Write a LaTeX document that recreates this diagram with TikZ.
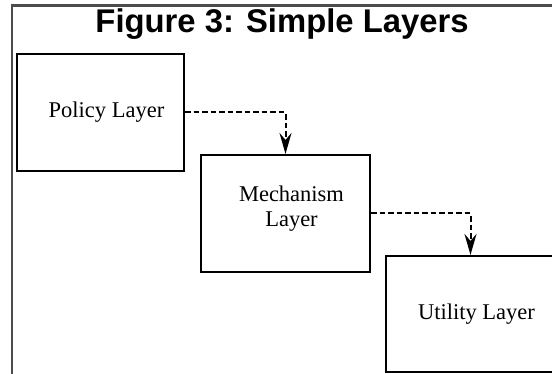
\documentclass[tikz,border=0pt]{standalone}
\usepackage{fontspec}
\setmainfont{Liberation Serif}
\newfontfamily\titlefont{Liberation Sans}
\usetikzlibrary{arrows.meta}
\tikzset{
  frameline/.style={draw=black!70, line width=2.4pt},
  layerbox/.style={draw=black, line width=2.1pt, rectangle, inner sep=0pt},
  lbl/.style={font=\fontsize{22.5}{24.5}\selectfont, align=center, inner sep=0pt},
  flow/.style={line width=2pt, dash pattern=on 5.5pt off 3pt, -{Stealth[length=21pt, width=12pt, inset=7pt]}},
}
\begin{document}
\begin{tikzpicture}[x=1pt,y=-1pt]
\useasboundingbox (0,0) rectangle (552,374);
\clip (0,0) rectangle (552,374);
\draw[frameline] (12,380) -- (12,5.5) -- (560,5.5);
\node[font=\titlefont\bfseries\fontsize{32.8}{36}\selectfont, anchor=base, inner sep=0pt] (title) at (282,33) {Figure 3: Simple Layers};
\node[layerbox, minimum width=167pt, minimum height=117pt] (pol) at (100.5,112.5) {};
\node[layerbox, minimum width=169pt, minimum height=117pt] (mech) at (285.5,213.5) {};
\node[layerbox, minimum width=169pt, minimum height=116pt] (util) at (470.5,314) {};
\node[lbl] (polt) at ([xshift=6pt]pol.center) {Policy Layer};
\node[lbl] (mecht) at ([xshift=6pt,yshift=5pt]mech.center) {Mechanism\\Layer};
\node[lbl] (utilt) at ([xshift=6pt]util.center) {Utility Layer};
\draw[flow] (pol.east) -| (mech.north);
\draw[flow] (mech.east) -| (util.north);
\end{tikzpicture}
\end{document}
